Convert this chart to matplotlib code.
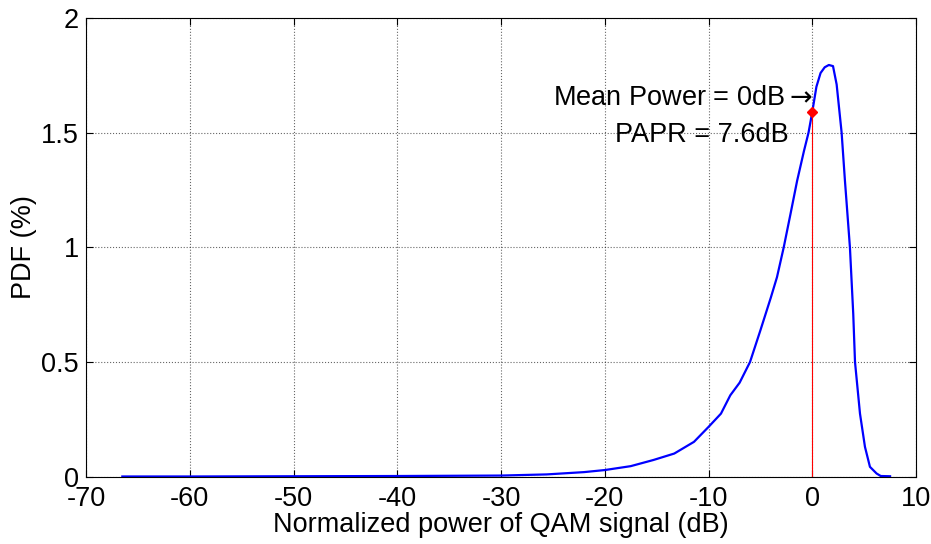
import matplotlib
matplotlib.use('Agg')
import matplotlib.pyplot as plt

plt.rcParams['font.family'] = ['Liberation Sans', 'DejaVu Sans']
plt.rcParams['axes.unicode_minus'] = False

# PDF of normalized QAM signal power (dB)
power_db = [-66.5, -60, -50, -40, -35, -30, -25.6, -22, -20, -17.5, -15.3, -13.3,
            -11.4, -10, -8.8, -7.9, -7, -6, -5, -4, -3.4, -2.75, -2.1, -1.46,
            -0.8, -0.36, 0, 0.4, 0.8, 1.2, 1.6, 2.0, 2.35, 2.83, 3.15, 3.3,
            3.63, 3.95, 4.12, 4.6, 5.08, 5.56, 6.2, 6.6, 7.5]
pdf = [0.001, 0.001, 0.002, 0.003, 0.004, 0.005, 0.01, 0.02, 0.029, 0.046, 0.073, 0.101,
       0.152, 0.217, 0.275, 0.355, 0.41, 0.5, 0.638, 0.78, 0.87, 1.0, 1.145, 1.29,
       1.42, 1.5, 1.59, 1.70, 1.76, 1.785, 1.795, 1.79, 1.71, 1.5, 1.29, 1.2,
       1.0, 0.71, 0.5, 0.275, 0.13, 0.043, 0.014, 0.003, 0.002]

mean_db = 0
mean_pdf = 1.59
papr = 7.6

fs = 19.5

fig = plt.figure(figsize=(9.31, 5.44), dpi=100)
ax = fig.add_axes([0.0924, 0.1237, 0.8915, 0.8433])

ax.plot(power_db, pdf, color='blue', lw=1.6)
ax.plot([mean_db, mean_db], [0, mean_pdf], color='red', lw=0.8)
ax.plot(mean_db, mean_pdf, 'D', color='red', markersize=5)

ax.text(mean_db + 0.1, 1.65, 'Mean Power = %gdB$\\rightarrow$' % mean_db,
        ha='right', va='center', fontsize=fs)
ax.text(-2.3, 1.49, 'PAPR = %gdB' % papr, ha='right', va='center', fontsize=fs)

ax.set_xlim(-70, 10)
ax.set_ylim(0, 2)
ax.set_xticks(range(-70, 11, 10))
ax.set_yticks([0, 0.5, 1, 1.5, 2])
ax.set_yticklabels(['0', '0.5', '1', '1.5', '2'])
ax.tick_params(direction='in', top=True, right=True, labelsize=fs, length=5, pad=5)
ax.tick_params(axis='x', pad=7)
ax.grid(True, linestyle=':', color='black', lw=0.8, alpha=0.6)

ax.set_xlabel('Normalized power of QAM signal (dB)', fontsize=fs, labelpad=0)
ax.set_ylabel('PDF (%)', fontsize=fs, labelpad=3)

fig.savefig('out.png', dpi=100)
